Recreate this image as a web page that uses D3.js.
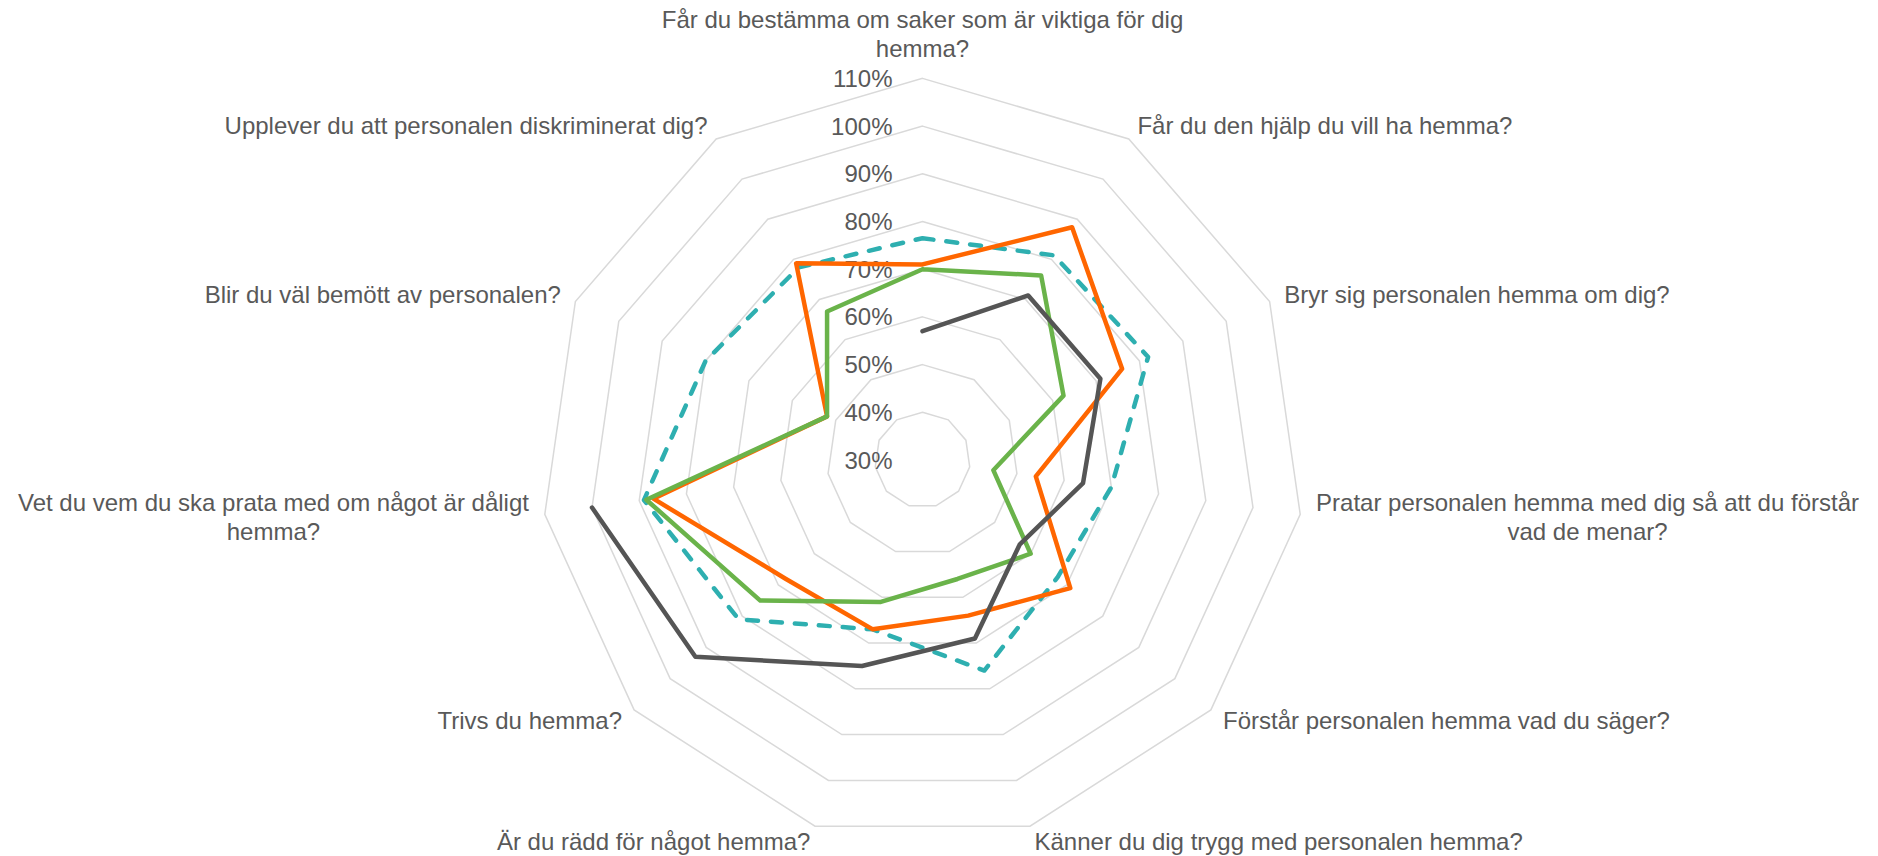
<!DOCTYPE html>
<html>
<head>
<meta charset="utf-8">
<script src="https://cdn.jsdelivr.net/npm/d3@7"></script>
<style>
  body { margin: 0; background: #ffffff; }
</style>
</head>
<body>
<div id="chart"></div>
<script>
// Axis labels, clockwise from the top.
const categories = [
  "Får du bestämma om saker som är viktiga för dig hemma?",
  "Får du den hjälp du vill ha hemma?",
  "Bryr sig personalen hemma om dig?",
  "Pratar personalen hemma med dig så att du förstår vad de menar?",
  "Förstår personalen hemma vad du säger?",
  "Känner du dig trygg med personalen hemma?",
  "Är du rädd för något hemma?",
  "Trivs du hemma?",
  "Vet du vem du ska prata med om något är dåligt hemma?",
  "Blir du väl bemött av personalen?",
  "Upplever du att personalen diskriminerat dig?"
];

// Radial tick labels.
const tickValues = [0.3, 0.4, 0.5, 0.6, 0.7, 0.8, 0.9, 1.0, 1.1];

// Series values (share), one per category. null = no answer.
const tealValues = [0.765, 0.81, 0.82, 0.70, 0.675, 0.76, 0.67, 0.81, 0.89, 0.80, 0.78];
const orangeValues = [0.71, 0.88, 0.76, 0.54, 0.71, 0.64, 0.67, 0.68, 0.87, 0.52, 0.79];
const greenValues = [0.70, 0.76, 0.625, 0.45, 0.60, 0.56, 0.61, 0.75, 0.885, 0.52, 0.67];
const greyValues = [0.57, 0.71, 0.71, 0.64, 0.57, 0.69, 0.75, 0.93, 1.0, null, null];

/**
 * Layout.
 */
const width = 1878;
const height = 856;
const cx = 922.5;
const cy = 460;
const outerRadius = 381.6;
const fontFamily = "'Liberation Sans', Arial, sans-serif";
const textColor = "#595959";

const svg = d3.select("#chart")
  .append("svg")
  .attr("width", width)
  .attr("height", height)
  .style("display", "block")
  .style("background", "#ffffff");

const r = d3.scaleLinear()
  .domain([tickValues[0], tickValues[tickValues.length - 1]])
  .range([0, outerRadius]);

const n = categories.length;
const angle = (i) => (i * 2 * Math.PI) / n;

const g = svg.append("g").attr("transform", `translate(${cx},${cy})`);

/**
 * Grid rings.
 */
const ring = d3.lineRadial()
  .angle((d) => d.a)
  .radius((d) => d.r)
  .curve(d3.curveLinearClosed);

g.append("g")
  .selectAll("path")
  .data(tickValues.slice(1))
  .enter()
  .append("path")
  .attr("d", (v) => ring(categories.map((_, i) => ({ a: angle(i), r: r(v) }))))
  .attr("fill", "none")
  .attr("stroke", "#d9d9d9")
  .attr("stroke-width", 1.5);

/**
 * Tick labels.
 */
g.append("g")
  .selectAll("text")
  .data(tickValues)
  .enter()
  .append("text")
  .attr("x", -30)
  .attr("y", (v) => -r(v) + 8.5)
  .attr("text-anchor", "end")
  .style("font-family", fontFamily)
  .style("font-size", "24px")
  .style("fill", textColor)
  .text((v) => d3.format(".0%")(v));

/**
 * Series.
 */
const series = [
  { values: tealValues, color: "#2eafb0", dash: "11 13" },
  { values: orangeValues, color: "#ff6600", dash: null },
  { values: greenValues, color: "#6ab34a", dash: null },
  { values: greyValues, color: "#555555", dash: null }
];

const radarLine = d3.lineRadial()
  .defined((d) => d.v != null)
  .angle((d) => angle(d.i))
  .radius((d) => r(d.v));

series.forEach((s) => {
  const pts = s.values.map((v, i) => ({ i, v }));
  // Close the shape only when every spoke has a value.
  if (s.values.every((v) => v != null)) pts.push({ i: n, v: s.values[0] });
  g.append("path")
    .attr("d", radarLine(pts))
    .attr("fill", "none")
    .attr("stroke", s.color)
    .attr("stroke-width", 4.5)
    .attr("stroke-linejoin", "round")
    .attr("stroke-linecap", "round")
    .attr("stroke-dasharray", s.dash);
});

/**
 * Category labels.
 */
const lineHeight = 29;
const maxLabelWidth = 560;
const labels = svg.append("g")
  .style("font-family", fontFamily)
  .style("font-size", "24px")
  .style("fill", textColor);

// Greedy word wrap with measured widths.
function wrap(str) {
  const probe = labels.append("text");
  const words = str.split(" ");
  const lines = [];
  let line = words[0];
  for (let k = 1; k < words.length; k++) {
    probe.text(line + " " + words[k]);
    if (probe.node().getComputedTextLength() > maxLabelWidth) {
      lines.push(line);
      line = words[k];
    } else {
      line += " " + words[k];
    }
  }
  lines.push(line);
  const widths = lines.map((l) => probe.text(l).node().getComputedTextLength());
  probe.remove();
  return { lines, blockWidth: d3.max(widths) };
}

categories.forEach((label, i) => {
  const a = angle(i);
  const d = outerRadius + 16;
  const sx = Math.sin(a);
  const cyAxis = Math.cos(a);
  const ax = cx + d * sx;
  const ay = cy - d * cyAxis;
  const { lines, blockWidth } = wrap(label);

  let midX = ax;
  if (sx > 0.15) midX = ax + blockWidth / 2;
  else if (sx < -0.15) midX = ax - blockWidth / 2;

  const t = labels.append("text").attr("text-anchor", "middle");
  lines.forEach((l, k) => {
    let y;
    if (cyAxis > 0.95) y = ay - 5 - (lines.length - 1 - k) * lineHeight;
    else y = ay + (k - (lines.length - 1) / 2) * lineHeight + 8.5;
    t.append("tspan").attr("x", midX).attr("y", y).text(l);
  });
});
</script>
</body>
</html>
